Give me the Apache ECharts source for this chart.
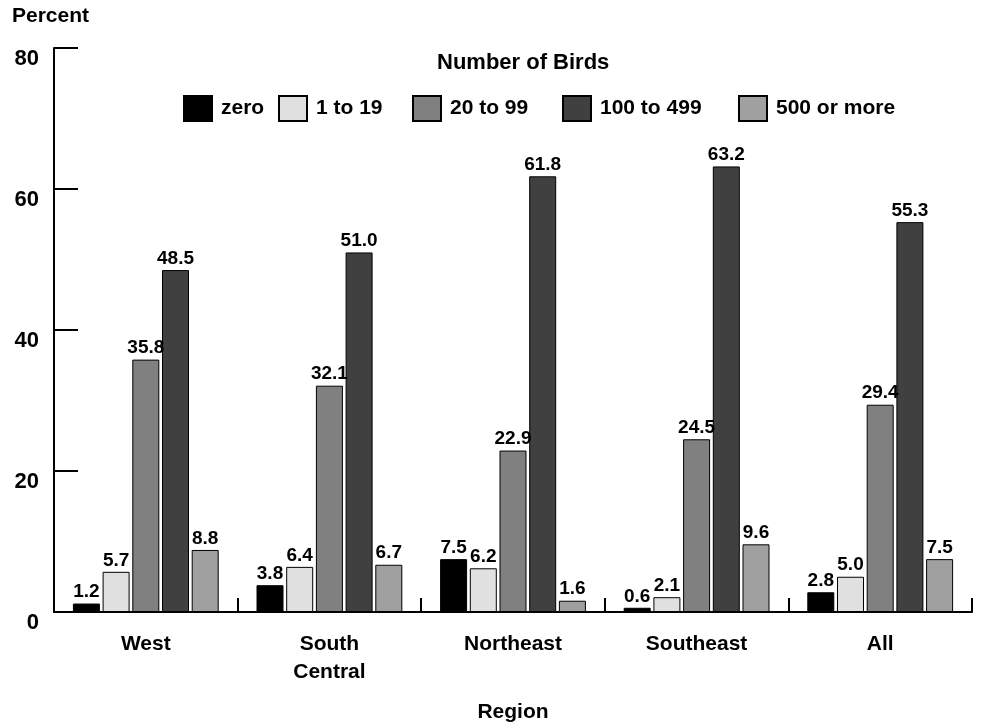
<!DOCTYPE html>
<html>
<head>
<meta charset="utf-8">
<script src="https://cdn.jsdelivr.net/npm/echarts@6/dist/echarts.min.js"></script>
<style>
html,body{margin:0;padding:0;background:#fff;}
#chart{width:982px;height:728px;}
</style>
</head>
<body>
<div id="chart"></div>
<script>
var categories = ['West', 'South\nCentral', 'Northeast', 'Southeast', 'All'];
var seriesNames = ['zero', '1 to 19', '20 to 99', '100 to 499', '500 or more'];
var zeroVals = [1.2, 3.8, 7.5, 0.6, 2.8];
var oneTo19Vals = [5.7, 6.4, 6.2, 2.1, 5.0];
var twentyTo99Vals = [35.8, 32.1, 22.9, 24.5, 29.4];
var hundredTo499Vals = [48.5, 51.0, 61.8, 63.2, 55.3];
var fiveHundredVals = [8.8, 6.7, 1.6, 9.6, 7.5];
var yTicks = [0, 20, 40, 60, 80];

var seriesData = [zeroVals, oneTo19Vals, twentyTo99Vals, hundredTo499Vals, fiveHundredVals];
var colors = ['#000000', '#e0e0e0', '#808080', '#404040', '#a0a0a0'];
var legendLefts = [183, 278, 412, 562, 738];
var FONT = 'Liberation Sans, Arial, sans-serif';

var chart = echarts.init(document.getElementById('chart'), null, {renderer: 'canvas'});

var legends = seriesNames.map(function (n, i) {
  return {
    data: [{name: n, icon: 'rect'}],
    left: legendLefts[i],
    top: 95,
    itemWidth: 28,
    itemHeight: 25,
    padding: 0,
    selectedMode: false,
    textStyle: {fontFamily: FONT, fontWeight: 'bold', fontSize: 21, color: '#000', padding: [0, 0, 0, 4]}
  };
});

var series = seriesNames.map(function (n, i) {
  return {
    name: n,
    type: 'bar',
    data: seriesData[i],
    barWidth: 27,
    barGap: '10%',
    itemStyle: {color: colors[i], borderColor: '#000', borderWidth: 1},
    label: {
      show: true,
      position: 'top',
      distance: 2,
      fontFamily: FONT,
      fontWeight: 'bold',
      fontSize: 19,
      color: '#000',
      formatter: function (p) { return p.value.toFixed(1); }
    }
  };
});

chart.setOption({
  backgroundColor: '#ffffff',
  animation: false,
  title: [
    {text: 'Percent', left: 12, top: 6, padding: 0,
     textStyle: {fontFamily: FONT, fontWeight: 'bold', fontSize: 21, color: '#000'}},
    {text: 'Number of Birds', left: 437, top: 52, padding: 0,
     textStyle: {fontFamily: FONT, fontWeight: 'bold', fontSize: 22, color: '#000'}}
  ],
  legend: legends,
  grid: {left: 54, right: 10, top: 48, bottom: 116, containLabel: false},
  xAxis: {
    type: 'category',
    data: categories,
    name: 'Region',
    nameLocation: 'middle',
    nameGap: 90,
    nameTextStyle: {fontFamily: FONT, fontWeight: 'bold', fontSize: 21, color: '#000', verticalAlign: 'top'},
    axisLine: {lineStyle: {color: '#000', width: 2}},
    axisTick: {show: true, inside: true, length: 14, lineStyle: {color: '#000', width: 2}},
    axisLabel: {fontFamily: FONT, fontWeight: 'bold', fontSize: 21, color: '#000', margin: 18, lineHeight: 28}
  },
  yAxis: {
    type: 'value',
    min: 0,
    max: 80,
    interval: 20,
    axisLine: {show: true, lineStyle: {color: '#000', width: 2}},
    axisTick: {show: true, inside: true, length: 24, lineStyle: {color: '#000', width: 2}},
    splitLine: {show: false},
    axisLabel: {
      fontFamily: FONT, fontWeight: 'bold', fontSize: 22, color: '#000', margin: 15,
      verticalAlign: 'top', lineHeight: 21,
      formatter: function (v) { return yTicks.indexOf(v) >= 0 ? String(v) : ''; }
    }
  },
  series: series
});
</script>
</body>
</html>
